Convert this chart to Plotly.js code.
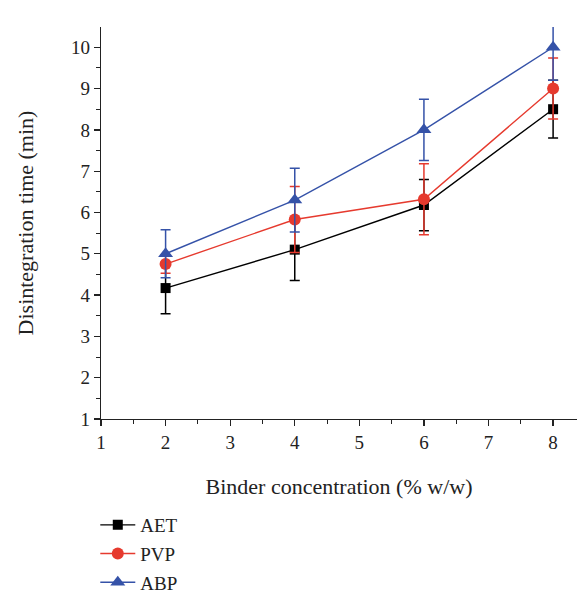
<!DOCTYPE html>
<html>
<head>
<meta charset="utf-8">
<script src="https://cdn.plot.ly/plotly-3.0.1.min.js"></script>
<style>html,body{margin:0;padding:0;background:#fff;}#chart{width:578px;height:595px;}</style>
</head>
<body>
<div id="chart"></div>
<script>
var concentration = [2, 4, 6, 8];
var aetTime = [4.17, 5.10, 6.18, 8.50];
var aetErr = [0.62, 0.75, 0.62, 0.70];
var pvpTime = [4.75, 5.83, 6.32, 9.00];
var pvpErr = [0.22, 0.80, 0.86, 0.74];
var abpTime = [5.00, 6.30, 8.00, 10.00];
var abpErr = [0.58, 0.77, 0.74, 0.80];
var seriesNames = ["AET", "PVP", "ABP"];

var FONT = "Liberation Serif, Times New Roman, serif";
function mk(name, y, err, color, symbol, size, grp) {
  return {
    x: concentration, y: y, name: name, type: "scatter", mode: "lines+markers",
    legendgroup: grp,
    line: {color: color, width: 1.4},
    marker: {color: color, symbol: symbol, size: size},
    error_y: {type: "data", array: err, visible: true, color: color, thickness: 1.5, width: 5}
  };
}
var data = [
  mk(seriesNames[0], aetTime, aetErr, "#000000", "square", 10, "a"),
  mk(seriesNames[1], pvpTime, pvpErr, "#e63a2e", "circle", 12, "b"),
  mk(seriesNames[2], abpTime, abpErr, "#3552a8", "triangle-up", 13, "c")
];
var layout = {
  width: 578, height: 595,
  margin: {l: 101, r: 1, t: 27, b: 176, autoexpand: false},
  paper_bgcolor: "#fff", plot_bgcolor: "#fff",
  font: {family: FONT, size: 19, color: "#222"},
  showlegend: true,
  legend: {x: -0.012, y: -0.222, xanchor: "left", yanchor: "top", traceorder: "grouped",
           tracegroupgap: 1, itemwidth: 35, font: {family: FONT, size: 19, color: "#222"},
           bgcolor: "rgba(0,0,0,0)"},
  xaxis: {
    range: [1, 8.37], dtick: 1, tick0: 1, showgrid: false, zeroline: false,
    showline: true, linecolor: "#222", linewidth: 1.3,
    ticks: "outside", ticklen: 6, tickwidth: 1.3, tickcolor: "#222",
    minor: {dtick: 0.5, ticks: "outside", ticklen: 4, tickwidth: 1, tickcolor: "#222", showgrid: false},
    tickfont: {family: FONT, size: 19, color: "#222"},
    title: {text: "Binder concentration (% w/w)", font: {family: FONT, size: 22, color: "#222"}, standoff: 26}
  },
  yaxis: {
    range: [1, 10.49], dtick: 1, tick0: 1, showgrid: false, zeroline: false,
    showline: true, linecolor: "#222", linewidth: 1.3,
    ticks: "outside", ticklen: 6, tickwidth: 1.3, tickcolor: "#222",
    minor: {dtick: 0.5, ticks: "outside", ticklen: 4, tickwidth: 1, tickcolor: "#222", showgrid: false},
    tickfont: {family: FONT, size: 19, color: "#222"},
    title: {text: "Disintegration time (min)", font: {family: FONT, size: 22, color: "#222"}, standoff: 31}
  }
};
Plotly.newPlot("chart", data, layout, {displayModeBar: false, staticPlot: true});
</script>
</body>
</html>
